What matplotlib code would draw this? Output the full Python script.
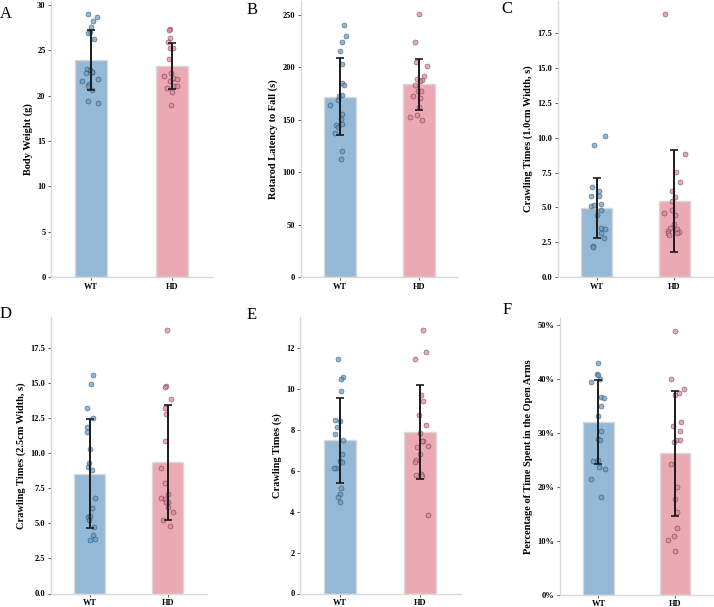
import matplotlib
matplotlib.use('Agg')
import matplotlib.pyplot as plt
from matplotlib.ticker import MultipleLocator, PercentFormatter
import numpy as np

plt.rcParams['font.family'] = ['Liberation Serif', 'DejaVu Serif']

groups = ['WT', 'HD']
bar_colors = ['#93b9d6', '#eba9b3']
dot_colors = ['#5b9bd0', '#ea8095']

# panel A - body weight (g)
a_wt = [29.0, 28.7, 28.2, 27.6, 27.0, 26.9, 26.25, 22.9, 22.8, 22.6, 22.5, 22.6, 21.8, 21.6, 21.25, 21.1, 20.6, 19.4, 19.2]
a_wt_jit = [-0.04, 0.07, 0.02, 0.0, -0.02, -0.04, 0.04, -0.05, -0.01, 0.01, -0.06, 0.01, 0.08, -0.12, -0.03, -0.04, 0.01, -0.04, 0.09]
a_hd = [27.4, 27.2, 26.4, 25.9, 25.3, 25.25, 24.1, 22.5, 22.2, 22.0, 21.8, 21.65, 21.1, 21.1, 20.85, 20.4, 19.0]
a_hd_jit = [-0.02, -0.03, -0.02, -0.05, 0.02, -0.02, -0.03, -0.01, -0.10, 0.02, 0.06, -0.02, 0.03, 0.06, -0.06, 0.0, -0.01]
a_mean = [23.97, 23.27]
a_sd = [3.3, 2.55]

# panel B - rotarod (s)
b_wt = [240.3, 229.5, 224.1, 215.2, 203.4, 184.7, 182.8, 173.2, 172.3, 168.5, 164.0, 155.4, 151.0, 146.2, 144.6, 143.0, 137.6, 120.5, 112.5]
b_wt_jit = [0.05, 0.07, 0.02, 0.0, 0.03, 0.02, 0.05, 0.03, -0.01, -0.03, -0.13, 0.03, 0.01, 0.02, -0.05, -0.03, -0.06, 0.03, 0.01]
b_hd = [250.8, 223.8, 205.0, 201.2, 192.0, 188.5, 188.2, 186.6, 183.4, 177.7, 177.0, 172.6, 170.4, 162.4, 154.2, 152.3, 149.4]
b_hd_jit = [0.0, -0.05, -0.04, 0.10, 0.06, -0.03, 0.04, 0.01, -0.05, -0.01, 0.03, -0.08, 0.01, 0.0, -0.03, -0.12, 0.04]
b_mean = [172.0, 183.8]
b_sd = [36.5, 24.6]

# panel C - crawling 1.0cm (s)
c_wt = [10.14, 9.47, 6.43, 6.2, 5.84, 5.81, 5.07, 5.14, 5.26, 4.78, 4.47, 3.49, 3.44, 3.16, 2.82, 2.25, 2.13]
c_wt_jit = [0.11, -0.04, -0.06, 0.03, -0.07, 0.03, -0.08, -0.03, 0.05, 0.05, 0.0, 0.06, 0.10, 0.05, 0.09, -0.05, -0.05]
c_hd = [18.88, 8.83, 7.54, 6.79, 6.2, 5.74, 5.43, 4.57, 4.78, 4.47, 3.83, 3.49, 3.33, 3.44, 3.18, 3.21, 3.16, 3.04]
c_hd_jit = [-0.12, 0.14, 0.02, 0.08, -0.03, 0.01, -0.03, -0.13, -0.03, 0.01, 0.0, -0.05, -0.08, 0.04, -0.08, 0.06, 0.04, -0.07]
c_mean = [4.95, 5.45]
c_sd = [2.15, 3.65]

# panel D - crawling 2.5cm (s)
d_wt = [15.53, 14.92, 13.21, 12.49, 11.85, 11.52, 10.26, 9.26, 9.03, 8.76, 6.77, 6.08, 5.42, 5.51, 5.2, 4.75, 4.13, 3.9, 3.8]
d_wt_jit = [0.04, 0.02, -0.03, 0.04, -0.03, -0.03, 0.01, -0.01, -0.02, 0.03, 0.07, 0.03, -0.02, 0.01, -0.01, 0.06, 0.04, 0.07, 0.0]
d_hd = [18.74, 14.77, 14.73, 13.87, 13.23, 12.8, 10.86, 8.95, 7.89, 7.1, 6.77, 6.7, 6.48, 6.48, 6.13, 5.77, 5.2, 4.77]
d_hd_jit = [-0.01, -0.02, -0.03, 0.04, -0.04, -0.02, -0.03, -0.09, -0.03, 0.0, -0.09, -0.04, 0.01, -0.02, 0.0, 0.07, -0.06, 0.03]
d_mean = [8.53, 9.33]
d_sd = [3.86, 4.1]

# panel E - crawling (s)
e_wt = [11.47, 10.59, 10.52, 9.89, 8.5, 8.45, 8.14, 7.83, 7.49, 6.84, 6.51, 6.46, 6.15, 6.12, 5.15, 4.88, 4.73, 4.49]
e_wt_jit = [-0.03, 0.03, 0.01, 0.01, -0.07, 0.0, -0.04, -0.07, 0.03, 0.02, 0.0, 0.02, -0.05, -0.08, 0.01, 0.0, -0.03, 0.0]
e_hd = [12.89, 11.81, 11.47, 9.72, 9.43, 8.74, 8.24, 7.85, 7.47, 7.46, 7.15, 7.24, 6.82, 6.54, 6.46, 5.79, 5.86, 5.74, 3.83]
e_hd_jit = [0.03, 0.07, -0.07, 0.01, 0.03, -0.02, 0.07, 0.0, 0.03, 0.02, -0.04, 0.09, 0.0, -0.05, -0.07, -0.06, 0.01, 0.02, 0.10]
e_mean = [7.5, 7.91]
e_sd = [2.09, 2.31]

# panel F - open arms (%)
f_wt = [42.9, 40.9, 40.7, 40.0, 39.4, 36.6, 36.4, 35.0, 33.1, 30.3, 28.9, 28.6, 24.8, 24.9, 23.6, 23.3, 21.4, 18.1]
f_wt_jit = [0.0, -0.02, -0.01, 0.02, -0.10, 0.04, 0.07, 0.03, -0.01, 0.04, 0.0, 0.02, -0.07, -0.01, 0.01, 0.09, -0.10, 0.03]
f_hd = [48.9, 40.0, 38.1, 37.4, 37.0, 32.1, 31.3, 30.3, 28.7, 28.6, 28.3, 24.3, 20.0, 17.8, 15.4, 12.4, 10.9, 10.2, 8.0]
f_hd_jit = [0.0, -0.06, 0.11, 0.05, 0.0, 0.08, -0.03, 0.06, 0.06, 0.01, -0.01, -0.06, 0.02, 0.0, 0.02, 0.03, -0.02, -0.09, 0.0]
f_mean = [32.05, 26.2]
f_sd = [7.8, 11.6]

W, H = 714, 607
fig = plt.figure(figsize=(W / 100, H / 100), dpi=100)


def add_panel(left, right, top, bottom):
  return fig.add_axes([left / W, 1 - bottom / H, (right - left) / W, (bottom - top) / H])


def draw(ax, wt, wt_jit, hd, hd_jit, mean, sd, ylabel, step=None):
  ax.bar([0, 1], mean, width=0.4, color=bar_colors, edgecolor='#d8d8d8', linewidth=1.0, zorder=1)
  for i, (vals, jit) in enumerate([(wt, wt_jit), (hd, hd_jit)]):
    ax.scatter(np.array(jit) + i, vals, s=13, color=dot_colors[i], alpha=0.7,
               edgecolor='#333333', linewidth=0.4, zorder=2)
  ax.errorbar([0, 1], mean, yerr=sd, fmt='none', ecolor='#1a1a1a', elinewidth=1.4,
              capsize=3, capthick=1.2, zorder=3)
  ax.set_xlim(-0.5, 1.5)
  ax.set_ylim(bottom=0)
  ax.set_xticks([0, 1])
  ax.set_xticklabels(groups)
  if step is not None:
    ax.yaxis.set_major_locator(MultipleLocator(step))
  for s in ['top', 'right']:
    ax.spines[s].set_visible(False)
  for s in ['left', 'bottom']:
    ax.spines[s].set_color('#d9d9d9')
    ax.spines[s].set_linewidth(1.0)
  ax.tick_params(axis='both', length=2.5, width=0.7, color='#555555', labelsize=6, pad=1.5)
  for lab in ax.get_xticklabels() + ax.get_yticklabels():
    lab.set_fontweight('bold')
  ax.set_ylabel(ylabel, fontsize=7.5, fontweight='bold', labelpad=3)


ax_a = add_panel(51, 212, 1, 277)
ax_b = add_panel(300.5, 458.5, 1, 277)
ax_c = add_panel(558, 713, 1, 277)
ax_d = add_panel(50.7, 206.7, 317, 593.5)
ax_e = add_panel(300, 460.5, 317, 593.5)
ax_f = add_panel(560, 713.5, 318, 594.5)

draw(ax_a, a_wt, a_wt_jit, a_hd, a_hd_jit, a_mean, a_sd, 'Body Weight (g)', 5)
draw(ax_b, b_wt, b_wt_jit, b_hd, b_hd_jit, b_mean, b_sd, 'Rotarod Latency to Fall (s)', 50)
draw(ax_c, c_wt, c_wt_jit, c_hd, c_hd_jit, c_mean, c_sd, 'Crawling Times (1.0cm Width, s)', 2.5)
draw(ax_d, d_wt, d_wt_jit, d_hd, d_hd_jit, d_mean, d_sd, 'Crawling Times (2.5cm Width, s)', 2.5)
draw(ax_e, e_wt, e_wt_jit, e_hd, e_hd_jit, e_mean, e_sd, 'Crawling Times (s)', 2)
draw(ax_f, f_wt, f_wt_jit, f_hd, f_hd_jit, f_mean, f_sd, 'Percentage of Time Spent in the Open Arms', 10)
ax_f.yaxis.set_major_formatter(PercentFormatter(xmax=100, decimals=0))
for lab in ax_f.get_yticklabels():
  lab.set_fontweight('bold')

for letter, x, y in [('A', 0, 18), ('B', 247, 14), ('C', 501, 13),
                     ('D', 0, 318), ('E', 247, 319), ('F', 503, 314)]:
  fig.text(x / W, 1 - y / H, letter, fontsize=12, va='baseline', ha='left')

fig.savefig('out.png', dpi=100)
